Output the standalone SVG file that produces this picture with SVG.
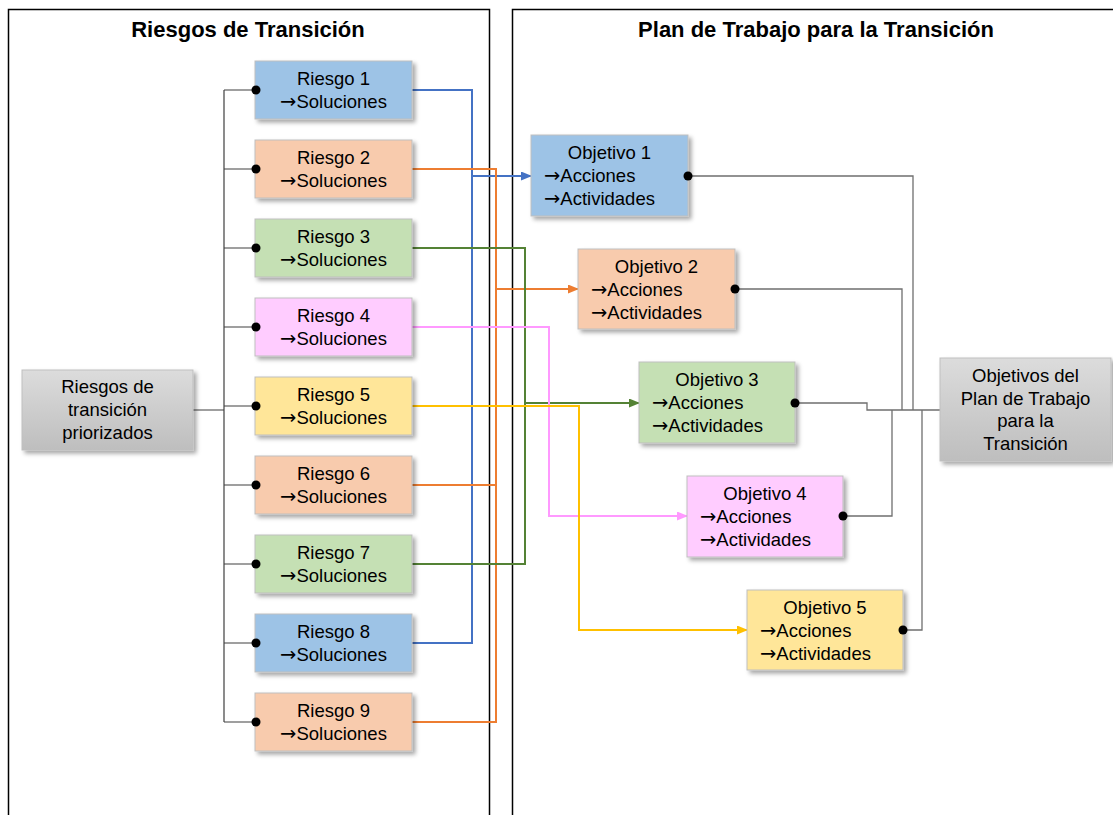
<svg xmlns="http://www.w3.org/2000/svg" width="1113" height="815" viewBox="0 0 1113 815">
<style>
text{font-family:"Liberation Sans",Arial,sans-serif;fill:#000}
.t{font-size:18.5px}
.c{text-anchor:middle}
.ar{font-family:"DejaVu Sans",sans-serif;font-size:19.5px}
.h{font-size:22px;font-weight:bold;text-anchor:middle}
.box{stroke:#BFBFBF;stroke-width:1;filter:url(#sh)}
.blue{fill:#9DC3E6}.orange{fill:#F8CBAD}.green{fill:#C5E0B4}.pink{fill:#FFCCFF}.yellow{fill:#FFE699}
.gray{fill:url(#gg)}
.panel{fill:none;stroke:#000;stroke-width:1.5}
.tree{fill:none;stroke:#404040;stroke-width:1.2}
.rg{fill:none;stroke:#6F6F6F;stroke-width:1.3}
.lb{fill:none;stroke:#4472C4;stroke-width:2}
.lo{fill:none;stroke:#ED7D31;stroke-width:2}
.lg{fill:none;stroke:#548235;stroke-width:2}
.lp{fill:none;stroke:#FF99FF;stroke-width:2}
.ly{fill:none;stroke:#FFC000;stroke-width:2}
.dot{fill:#000}
</style>
<defs>
<filter id="sh" x="-10%" y="-10%" width="130%" height="140%">
<feDropShadow dx="3" dy="3" stdDeviation="2" flood-color="#000" flood-opacity="0.35"/>
</filter>
<linearGradient id="gg" x1="0" y1="0" x2="0" y2="1">
<stop offset="0" stop-color="#DCDCDC"/>
<stop offset="1" stop-color="#BEBEBE"/>
</linearGradient>
<marker id="ab" markerUnits="userSpaceOnUse" markerWidth="11" markerHeight="9" refX="10" refY="4.5" orient="auto"><path d="M0,0 L11,4.5 L0,9 z" fill="#4472C4"/></marker>
<marker id="ao" markerUnits="userSpaceOnUse" markerWidth="11" markerHeight="9" refX="10" refY="4.5" orient="auto"><path d="M0,0 L11,4.5 L0,9 z" fill="#ED7D31"/></marker>
<marker id="ag" markerUnits="userSpaceOnUse" markerWidth="11" markerHeight="9" refX="10" refY="4.5" orient="auto"><path d="M0,0 L11,4.5 L0,9 z" fill="#548235"/></marker>
<marker id="ap" markerUnits="userSpaceOnUse" markerWidth="11" markerHeight="9" refX="10" refY="4.5" orient="auto"><path d="M0,0 L11,4.5 L0,9 z" fill="#FF99FF"/></marker>
<marker id="ay" markerUnits="userSpaceOnUse" markerWidth="11" markerHeight="9" refX="10" refY="4.5" orient="auto"><path d="M0,0 L11,4.5 L0,9 z" fill="#FFC000"/></marker>
</defs>
<rect width="1113" height="815" fill="#fff"/>

<g id="panel-riesgos">
<rect class="panel" x="8.5" y="9.5" width="481" height="830"/>
<text class="h" x="248" y="37">Riesgos de Transición</text>
</g>
<g id="panel-plan">
<rect class="panel" x="512.5" y="9.5" width="640" height="830"/>
<text class="h" x="816" y="37">Plan de Trabajo para la Transición</text>
</g>

<g id="connectors">
<path class="tree" d="M193,410 H224 M224,90 V722 M224,90 H256 M224,169 H256 M224,248 H256 M224,327 H256 M224,406 H256 M224,485 H256 M224,564 H256 M224,643 H256 M224,722 H256"/>
<path class="lb" d="M412,90 H472 V643 H412"/>
<path class="lb" d="M472,176 H531" marker-end="url(#ab)"/>
<path class="lo" d="M412,169 H496 V722 H412 M412,485 H496"/>
<path class="lo" d="M496,289 H578" marker-end="url(#ao)"/>
<path class="lg" d="M412,248 H525 V564 H412"/>
<path class="lg" d="M525,403 H639" marker-end="url(#ag)"/>
<path class="lp" d="M412,327 H549 V516 H687" marker-end="url(#ap)"/>
<path class="ly" d="M412,406 H579 V630 H747" marker-end="url(#ay)"/>
<path class="rg" d="M688,176 H913 V410 M735,289 H902 V410 M795,403 H867 V410 H940 M843,516 H892 V410 M903,630 H922 V410"/>
</g>

<g id="riesgos-priorizados">
<rect class="box gray" x="22" y="370" width="171" height="80"/>
<text class="t c" x="107.5" y="393">Riesgos de</text>
<text class="t c" x="107.5" y="416">transición</text>
<text class="t c" x="107.5" y="439">priorizados</text>
</g>

<g id="riesgo1"><rect class="box blue" x="255" y="61" width="157" height="58"/><text class="t c" x="333.5" y="85">Riesgo 1</text><text class="t c" x="333.5" y="108"><tspan class="ar">→</tspan>Soluciones</text><circle class="dot" cx="256" cy="90" r="4.5"/></g>
<g id="riesgo2"><rect class="box orange" x="255" y="140" width="157" height="58"/><text class="t c" x="333.5" y="164">Riesgo 2</text><text class="t c" x="333.5" y="187"><tspan class="ar">→</tspan>Soluciones</text><circle class="dot" cx="256" cy="169" r="4.5"/></g>
<g id="riesgo3"><rect class="box green" x="255" y="219" width="157" height="58"/><text class="t c" x="333.5" y="243">Riesgo 3</text><text class="t c" x="333.5" y="266"><tspan class="ar">→</tspan>Soluciones</text><circle class="dot" cx="256" cy="248" r="4.5"/></g>
<g id="riesgo4"><rect class="box pink" x="255" y="298" width="157" height="58"/><text class="t c" x="333.5" y="322">Riesgo 4</text><text class="t c" x="333.5" y="345"><tspan class="ar">→</tspan>Soluciones</text><circle class="dot" cx="256" cy="327" r="4.5"/></g>
<g id="riesgo5"><rect class="box yellow" x="255" y="377" width="157" height="58"/><text class="t c" x="333.5" y="401">Riesgo 5</text><text class="t c" x="333.5" y="424"><tspan class="ar">→</tspan>Soluciones</text><circle class="dot" cx="256" cy="406" r="4.5"/></g>
<g id="riesgo6"><rect class="box orange" x="255" y="456" width="157" height="58"/><text class="t c" x="333.5" y="480">Riesgo 6</text><text class="t c" x="333.5" y="503"><tspan class="ar">→</tspan>Soluciones</text><circle class="dot" cx="256" cy="485" r="4.5"/></g>
<g id="riesgo7"><rect class="box green" x="255" y="535" width="157" height="58"/><text class="t c" x="333.5" y="559">Riesgo 7</text><text class="t c" x="333.5" y="582"><tspan class="ar">→</tspan>Soluciones</text><circle class="dot" cx="256" cy="564" r="4.5"/></g>
<g id="riesgo8"><rect class="box blue" x="255" y="614" width="157" height="58"/><text class="t c" x="333.5" y="638">Riesgo 8</text><text class="t c" x="333.5" y="661"><tspan class="ar">→</tspan>Soluciones</text><circle class="dot" cx="256" cy="643" r="4.5"/></g>
<g id="riesgo9"><rect class="box orange" x="255" y="693" width="157" height="58"/><text class="t c" x="333.5" y="717">Riesgo 9</text><text class="t c" x="333.5" y="740"><tspan class="ar">→</tspan>Soluciones</text><circle class="dot" cx="256" cy="722" r="4.5"/></g>

<g id="objetivo1"><rect class="box blue" x="531" y="135" width="157" height="81"/><text class="t c" x="609.5" y="159">Objetivo 1</text><text class="t" x="544" y="182"><tspan class="ar">→</tspan>Acciones</text><text class="t" x="544" y="204.5"><tspan class="ar">→</tspan>Actividades</text><circle class="dot" cx="688" cy="176" r="4.5"/></g>
<g id="objetivo2"><rect class="box orange" x="578" y="249" width="157" height="80"/><text class="t c" x="656.5" y="273">Objetivo 2</text><text class="t" x="591" y="296"><tspan class="ar">→</tspan>Acciones</text><text class="t" x="591" y="318.5"><tspan class="ar">→</tspan>Actividades</text><circle class="dot" cx="735" cy="289" r="4.5"/></g>
<g id="objetivo3"><rect class="box green" x="639" y="362" width="156" height="81"/><text class="t c" x="717" y="386">Objetivo 3</text><text class="t" x="652" y="409"><tspan class="ar">→</tspan>Acciones</text><text class="t" x="652" y="431.5"><tspan class="ar">→</tspan>Actividades</text><circle class="dot" cx="795" cy="403" r="4.5"/></g>
<g id="objetivo4"><rect class="box pink" x="687" y="476" width="156" height="81"/><text class="t c" x="765" y="500">Objetivo 4</text><text class="t" x="700" y="523"><tspan class="ar">→</tspan>Acciones</text><text class="t" x="700" y="545.5"><tspan class="ar">→</tspan>Actividades</text><circle class="dot" cx="843" cy="516" r="4.5"/></g>
<g id="objetivo5"><rect class="box yellow" x="747" y="590" width="156" height="80"/><text class="t c" x="825" y="614">Objetivo 5</text><text class="t" x="760" y="637"><tspan class="ar">→</tspan>Acciones</text><text class="t" x="760" y="659.5"><tspan class="ar">→</tspan>Actividades</text><circle class="dot" cx="903" cy="630" r="4.5"/></g>

<g id="objetivos-plan">
<rect class="box gray" x="940" y="358" width="171" height="103"/>
<text class="t c" x="1025.5" y="382">Objetivos del</text>
<text class="t c" x="1025.5" y="404.5">Plan de Trabajo</text>
<text class="t c" x="1025.5" y="427">para la</text>
<text class="t c" x="1025.5" y="449.5">Transición</text>
</g>
</svg>
